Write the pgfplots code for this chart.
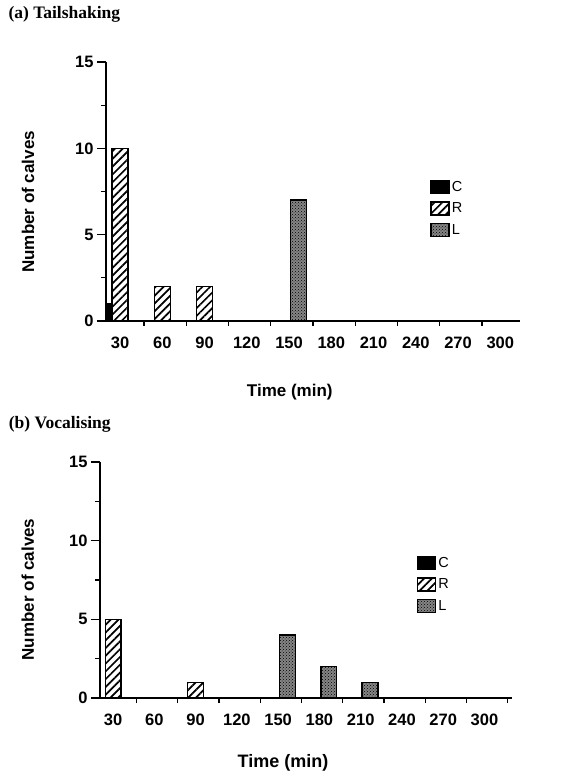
\documentclass[border=0pt]{standalone}
\usepackage{fontspec}
\setmainfont{Liberation Serif}
\setsansfont{Liberation Sans}
\usepackage{pgfplots}
\pgfplotsset{compat=1.18}
\usetikzlibrary{patterns,patterns.meta}

\pgfplotsset{
  calves/.style={
    scale only axis,
    axis lines*=left,
    axis line style={line width=1.4pt},
    ymin=0, ymax=15,
    ytick={0,5,10,15},
    minor ytick={2.5,7.5,12.5},
    xtick={30,60,...,300},
    minor xtick={47,77,...,317},
    tick align=outside,
    major tick length=9pt,
    minor tick length=5pt,
    tick style={line width=1.2pt, black},
    major x tick style={draw=none},
    /pgf/number format/assume math mode=true,
    ticklabel style={font=\sffamily\bfseries\fontsize{16.5}{19}\selectfont},
    xticklabel style={yshift=-3pt},
    label style={font=\sffamily\bfseries\fontsize{17}{20}\selectfont, anchor=center},
    title style={font=\rmfamily\bfseries\fontsize{17.5}{20}\selectfont, anchor=west},
    xlabel={Time (min)},
    ylabel={Number of calves},
    legend style={anchor=north west, draw=none, fill=none, inner sep=0pt,
      font=\sffamily\fontsize{14.5}{17}\selectfont, row sep=6pt},
    legend cell align=left,
  },
  lgd/.style={legend image code/.code={\draw[##1] (0pt,-6.5pt) rectangle (18pt,6.5pt);}},
  barC/.style={ybar, bar width=11.4, bar shift=-11.4, fill=black, draw=black, line width=1.4pt, lgd},
  barR/.style={ybar, bar width=11.4, bar shift=0, draw=black, line width=1.4pt,
    pattern={Lines[angle=45, distance=5.5pt, line width=1.7pt]}, lgd},
  barL/.style={ybar, bar width=11.4, bar shift=6.8, draw=black, line width=1.4pt,
    fill=black!48, postaction={pattern=crosshatch dots, pattern color=black}, lgd},
}

\begin{document}
\begin{tikzpicture}
\useasboundingbox (0,0) rectangle (569pt,777pt);

% (a) Tailshaking
\begin{axis}[calves,
  at={(106pt,456pt)}, anchor=south west,
  width=414pt, height=259pt,
  xmin=20, xmax=314,
  title={(a) Tailshaking},
  title style={at={(axis description cs:-0.244,1.162)}},
  xlabel style={at={(axis description cs:0.444,-0.274)}},
  ylabel style={at={(axis description cs:-0.188,0.46)}},
  legend style={at={(rel axis cs:0.783,0.548)}},
]
\addplot[barC] coordinates {(30,1)};
\addplot[barR] coordinates {(30,10) (60,2) (90,2)};
\addplot[barL] coordinates {(150,7)};
\legend{C,R,L}
\end{axis}

% (b) Vocalising
\begin{axis}[calves,
  at={(100pt,79pt)}, anchor=south west,
  width=412pt, height=236pt,
  xmin=20.5, xmax=320,
  title={(b) Vocalising},
  title style={at={(axis description cs:-0.23,1.136)}},
  xlabel style={at={(axis description cs:0.444,-0.275)},
    font=\sffamily\bfseries\fontsize{18}{21}\selectfont},
  ylabel style={at={(axis description cs:-0.175,0.46)}},
  legend style={at={(rel axis cs:0.769,0.606)}},
]
\addlegendimage{barC}
\addplot[barR] coordinates {(30,5) (90,1)};
\addplot[barL] coordinates {(150,4) (180,2) (210,1)};
\legend{C,R,L}
\end{axis}
\end{tikzpicture}
\end{document}
